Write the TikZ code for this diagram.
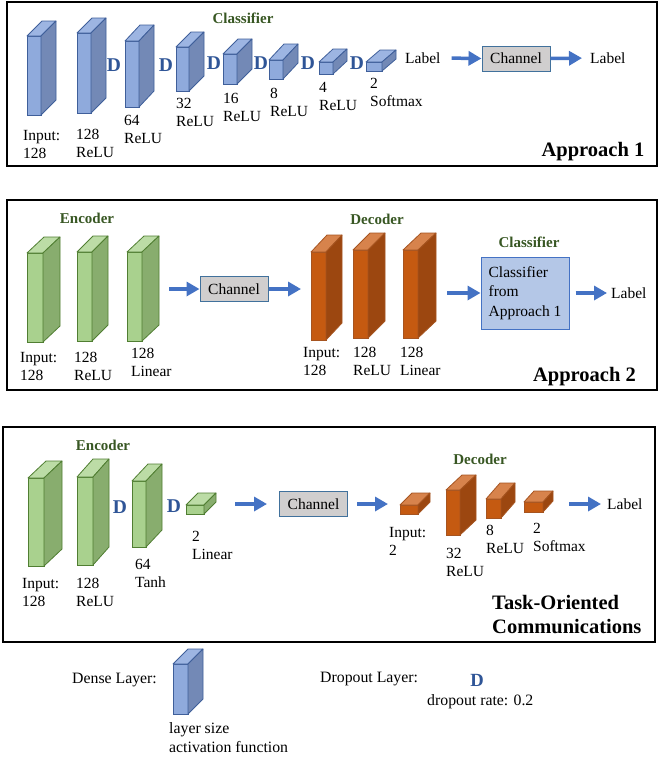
\documentclass[tikz,border=0pt]{standalone}
\usepackage{fontspec}
\setmainfont{Liberation Serif}
\usetikzlibrary{arrows.meta}
\definecolor{bluef}{HTML}{8FAADC}
\definecolor{bluet}{HTML}{9DB5E2}
\definecolor{blues}{HTML}{7389B6}
\definecolor{blueb}{HTML}{3F5F9A}
\definecolor{grnf}{HTML}{A9D18E}
\definecolor{grnt}{HTML}{BCDCA6}
\definecolor{grns}{HTML}{88AD6E}
\definecolor{grnb}{HTML}{507E32}
\definecolor{orf}{HTML}{C55A11}
\definecolor{ort}{HTML}{D7834C}
\definecolor{ors}{HTML}{9C4710}
\definecolor{orb}{HTML}{A65420}
\definecolor{ttlgreen}{HTML}{385723}
\definecolor{dblue}{HTML}{2F5597}
\definecolor{arrc}{HTML}{4472C4}
\definecolor{chf}{HTML}{D0CECE}
\definecolor{chb}{HTML}{41719C}
\definecolor{clsf}{HTML}{B4C7E7}
\definecolor{clsb}{HTML}{4472C4}
\newcommand\blk[8]{%
  \node[front#8, minimum width=#4pt, minimum height=#5pt, anchor=north west] (#1) at (#2,#3) {};
  \draw[top#8] (#1.north west) -- ++(#6,-#7) -- ++(#4,0) -- (#1.north east) -- cycle;
  \draw[side#8] (#1.north east) -- ++(#6,-#7) -- ++(0,#5) -- (#1.south east) -- cycle;
}
\tikzset{
  frontb/.style={draw=blueb, fill=bluef, line width=0.8pt, inner sep=0, outer sep=0},
  topb/.style={draw=blueb, fill=bluet, line width=0.8pt, line join=round},
  sideb/.style={draw=blueb, fill=blues, line width=0.8pt, line join=round},
  frontg/.style={draw=grnb, fill=grnf, line width=0.8pt, inner sep=0, outer sep=0},
  topg/.style={draw=grnb, fill=grnt, line width=0.8pt, line join=round},
  sideg/.style={draw=grnb, fill=grns, line width=0.8pt, line join=round},
  fronto/.style={draw=orb, fill=orf, line width=0.8pt, inner sep=0, outer sep=0},
  topo/.style={draw=orb, fill=ort, line width=0.8pt, line join=round},
  sideo/.style={draw=orb, fill=ors, line width=0.8pt, line join=round},
  lab/.style={font=\fontsize{15.5}{18.5}\selectfont, inner sep=0, align=left, anchor=north west},
  lbl/.style={font=\fontsize{15.5}{18.5}\selectfont, inner sep=0, anchor=west},
  ttl/.style={font=\bfseries\fontsize{15}{18}\selectfont, text=ttlgreen, inner sep=0, anchor=base},
  big/.style={font=\bfseries\fontsize{20.5}{25}\selectfont, inner sep=0, anchor=base},
  drop/.style={font=\bfseries\fontsize{19.5}{20}\selectfont, text=dblue, inner sep=0},
  chan/.style={draw=chb, fill=chf, line width=1pt, minimum width=68pt, minimum height=25pt, inner sep=0, font=\fontsize{15.5}{18.5}\selectfont},
  arr/.style={draw=arrc, line width=3.5pt, -{Triangle[length=13pt,width=14pt]}},
  frame/.style={draw=black, line width=2pt},
  leg/.style={font=\fontsize{15.8}{19}\selectfont, inner sep=0},
}
\begin{document}
\begin{tikzpicture}[x=1pt,y=-1pt]
\useasboundingbox (0,0) rectangle (659,758);
\fill[white] (0,0) rectangle (659,758);
% ---------------- Panel 1
\draw[frame] (7,2) rectangle (657,166);
\blk{a1}{27}{36}{14}{79}{15}{15}{b}
\blk{a2}{77}{33}{14}{80}{15}{15}{b}
\blk{a3}{125}{41}{14}{66}{15}{16}{b}
\blk{a4}{176}{47}{13}{44}{15}{15}{b}
\blk{a5}{223}{54}{14}{30}{15}{15}{b}
\blk{a6}{269}{60}{14}{19}{15}{16}{b}
\blk{a7}{319}{62}{14}{12}{14}{13}{b}
\blk{a8}{366}{62}{16}{9}{14}{12}{b}
\node[drop] (ad1) at (114,65) {D};
\node[drop] (ad2) at (166,65) {D};
\node[drop] (ad3) at (214,63) {D};
\node[drop] (ad4) at (261,63) {D};
\node[drop] (ad5) at (308,63) {D};
\node[drop] (ad6) at (357,63) {D};
\node[lab] (al1) at (23,129.8) {Input:\\128};
\node[lab] (al2) at (76,128.8) {128\\ReLU};
\node[lab] (al3) at (124,114.8) {64\\ReLU};
\node[lab] (al4) at (176,97.8) {32\\ReLU};
\node[lab] (al5) at (223,92.8) {16\\ReLU};
\node[lab] (al6) at (270,87.8) {8\\ReLU};
\node[lab] (al7) at (319,81.8) {4\\ReLU};
\node[lab] (al8) at (370,77.8) {2\\Softmax};
\node[ttl] (atl) at (243,23) {Classifier};
\node[lbl] (alab1) at (405,58) {Label};
\node[chan] (ch1) at (516,58.5) {Channel};
\node[lbl] (alab2) at (590,58) {Label};
\draw[arr, shorten <=11pt] (alab1.east) -- (ch1.west);
\draw[arr, shorten >=8pt] (ch1.east) -- (alab2.west);
\node[big] (ap1) at (593,156) {Approach 1};
% ---------------- Panel 2
\draw[frame] (7,200) rectangle (657,390);
\blk{e1}{27}{253}{16}{89}{17}{16}{g}
\blk{e2}{77}{252}{15}{89}{16}{16}{g}
\blk{e3}{127}{252}{15}{89}{17}{16}{g}
\blk{d1}{311}{252}{15}{88}{16}{17}{o}
\blk{d2}{353}{250}{15}{88}{17}{17}{o}
\blk{d3}{403}{250}{15}{88}{18}{17}{o}
\node[ttl] (etl) at (87,223) {Encoder};
\node[ttl] (dtl) at (377,224) {Decoder};
\node[ttl] (ctl) at (529,247) {Classifier};
\node[lab] (bl1) at (20,351.8) {Input:\\128};
\node[lab] (bl2) at (74,351.8) {128\\ReLU};
\node[lab] (bl3) at (131,347.8) {128\\Linear};
\node[lab] (bl4) at (303,347) {Input:\\128};
\node[lab] (bl5) at (353,346.8) {128\\ReLU};
\node[lab] (bl6) at (400,346.8) {128\\Linear};
\node[chan] (ch2) at (234,289) {Channel};
\node[draw=clsb, fill=clsf, line width=1pt, minimum width=88pt, minimum height=72pt, inner sep=0,
      align=left, font=\fontsize{15.5}{19.5}\selectfont] (cls) at (525,293) {Classifier\\from\\Approach 1};
\node[lbl] (blab) at (611,293) {Label};
\draw[arr, shorten <=27pt] (e3.east |- ch2.west) -- (ch2.west);
\draw[arr, shorten >=10pt] (ch2.east) -- (ch2.east -| d1.west);
\draw[arr, shorten <=29pt] (d3.east |- cls.west) -- (cls.west);
\draw[arr, shorten <=6pt, shorten >=4pt] (cls.east) -- (blab.west);
\node[big] (ap2) at (584.5,381) {Approach 2};
% ---------------- Panel 3
\draw[frame] (3,427) rectangle (655,642);
\blk{f1}{28}{478}{16}{88}{18}{17}{g}
\blk{f2}{77}{477}{16}{88}{16}{18}{g}
\blk{f3}{132}{481}{14}{66}{16}{17}{g}
\blk{f4}{186}{505}{18}{9}{12}{12}{g}
\blk{g1}{400}{505}{18}{9}{12}{12}{o}
\blk{g2}{446}{490}{14}{45}{16}{15}{o}
\blk{g3}{486}{499}{15}{19}{14}{16}{o}
\blk{g4}{524}{502}{19}{10}{10}{11}{o}
\node[drop] (cd1) at (120,507) {D};
\node[drop] (cd2) at (174,506) {D};
\node[ttl] (ftl) at (103,450) {Encoder};
\node[ttl] (gtl) at (480,464) {Decoder};
\node[lab] (cl1) at (22,577.8) {Input:\\128};
\node[lab] (cl2) at (76,577.8) {128\\ReLU};
\node[lab] (cl3) at (135,558.8) {64\\Tanh};
\node[lab] (cl4) at (192,530.8) {2\\Linear};
\node[lab] (cl5) at (389,526.8) {Input:\\2};
\node[lab] (cl6) at (446,547.8) {32\\ReLU};
\node[lab] (cl7) at (486,524.8) {8\\ReLU};
\node[lab] (cl8) at (533,522.8) {2\\Softmax};
\node[chan] (ch3) at (313.5,504) {Channel};
\node[lbl] (clab) at (607,504) {Label};
\draw[arr, shorten <=31pt, shorten >=12pt] (f4.east |- ch3.west) -- (ch3.west);
\draw[arr, shorten <=9pt, shorten >=12pt] (ch3.east) -- (ch3.east -| g1.west);
\draw[arr, shorten <=26pt, shorten >=6pt] (g4.east |- clab.west) -- (clab.west);
\node[big, anchor=base west] (tk1) at (492,609) {Task-Oriented};
\node[big, anchor=base west] (tk2) at (492,633) {Communications};
% ---------------- Legend
\node[leg, anchor=west] (lg1) at (72,680) {Dense Layer:};
\blk{lb}{173}{664}{15}{50}{15}{15}{b}
\node[leg, anchor=north west, align=left] (lg2) at (169,722.8) {layer size\\activation function};
\node[leg, anchor=west] (lg3) at (320,679) {Dropout Layer:};
\node[drop, font=\bfseries\fontsize{18.6}{20}\selectfont] (lgd) at (477,680) {D};
\node[leg, anchor=west] (lg4) at (427,702) {dropout rate: 0.2};
\end{tikzpicture}
\end{document}
